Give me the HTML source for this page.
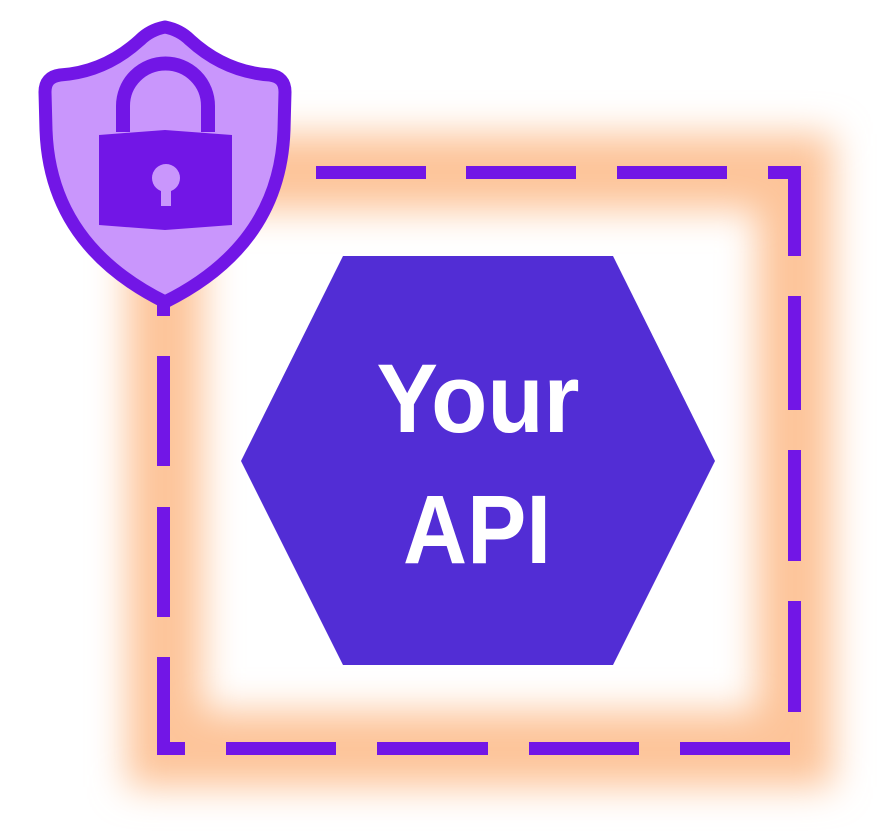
<!DOCTYPE html>
<html><head><style>html,body{margin:0;padding:0;background:#fff}svg{display:block}</style></head>
<body>
<svg width="884" height="839" viewBox="0 0 884 839" xmlns="http://www.w3.org/2000/svg">
<defs><filter id="b" x="-20%" y="-20%" width="140%" height="140%"><feGaussianBlur stdDeviation="18"/></filter></defs>
<rect x="165" y="172" width="630" height="577" fill="none" stroke="#fdc49a" stroke-width="76" filter="url(#b)"/>
<g fill="#7216e6">
<rect x="316" y="166" width="110" height="13"/><rect x="466" y="166" width="110" height="13"/><rect x="617" y="166" width="110" height="13"/><rect x="768" y="166" width="33" height="13"/>
<rect x="788" y="166" width="13" height="90"/><rect x="788" y="296" width="13" height="114"/><rect x="788" y="450" width="13" height="111"/><rect x="788" y="601" width="13" height="111"/>
<rect x="157" y="742" width="28" height="13"/><rect x="226" y="742" width="110" height="13"/><rect x="377" y="742" width="111" height="13"/><rect x="529" y="742" width="110" height="13"/><rect x="680" y="742" width="110" height="13"/>
<rect x="157" y="296" width="13" height="20"/><rect x="157" y="356" width="13" height="110"/><rect x="157" y="507" width="13" height="110"/><rect x="157" y="657" width="13" height="98"/>
</g>
<polygon points="343,256 613,256 715,461 613,665 343,665 241,461" fill="#522dd5"/>
<g fill="#fff" font-family="Liberation Sans, sans-serif" font-weight="bold" font-size="97" text-anchor="middle">
<text x="478" y="432" textLength="203" lengthAdjust="spacingAndGlyphs">Your</text>
<text x="477" y="563" textLength="148" lengthAdjust="spacingAndGlyphs">API</text>
</g>
<path d="M165,27 Q150,30 140,40 Q105,72 60,75 Q45,77 45,92 L46,130 Q50,245 165,302 Q280,245 284,130 L285,92 Q285,77 270,75 Q225,72 190,40 Q180,30 165,27 Z" fill="#c996fc" stroke="#7216e6" stroke-width="13" stroke-linejoin="round"/>
<path d="M123,132 L123,106 A42.5,42.5 0 0 1 208,106 L208,132" fill="none" stroke="#7216e6" stroke-width="14"/>
<path d="M99,135 L165,130 L232,135 L232,225 L165,230 L99,225 Z" fill="#7216e6"/>
<circle cx="166" cy="178" r="14" fill="#c996fc"/>
<rect x="161" y="182" width="10" height="24" fill="#c996fc"/>
</svg>
</body></html>
